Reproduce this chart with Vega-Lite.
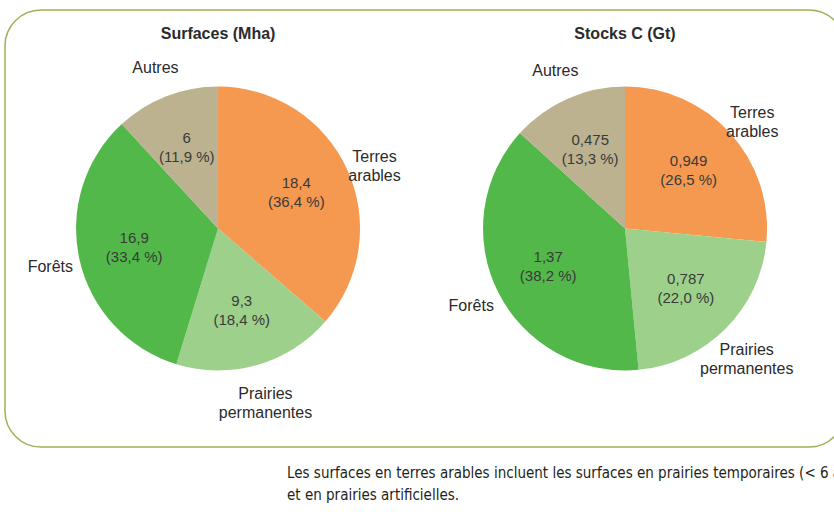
{
  "$schema": "https://vega.github.io/schema/vega-lite/v6.json",
  "autosize": {"type": "none"},
  "width": 840,
  "height": 437,
  "padding": {"left": 5, "top": 10, "right": -11, "bottom": 69},
  "background": "white",
  "config": {
    "view": {"stroke": "#9ab356", "strokeWidth": 1.5, "cornerRadius": 36, "fill": null},
    "font": "Liberation Sans"
  },
  "title": {
    "text": ["Les surfaces en terres arables incluent les surfaces en prairies temporaires (< 6 ans)", "et en prairies artificielles."],
    "orient": "bottom",
    "anchor": "start",
    "frame": "group",
    "dx": 282,
    "offset": 19,
    "font": "DejaVu Sans Condensed",
    "fontSize": 15,
    "fontWeight": "normal",
    "color": "#231f20",
    "lineHeight": 22
  },
  "datasets": {
    "main": [
      {"panel": "Surfaces", "cat": "Terres arables", "value": 18.4, "ord": 1, "inner": "18,4\n(36,4 %)", "outer": "Terres\narables"},
      {"panel": "Surfaces", "cat": "Prairies permanentes", "value": 9.3, "ord": 2, "inner": "9,3\n(18,4 %)", "outer": "Prairies\npermanentes"},
      {"panel": "Surfaces", "cat": "Forêts", "value": 16.9, "ord": 3, "inner": "16,9\n(33,4 %)", "outer": "Forêts"},
      {"panel": "Surfaces", "cat": "Autres", "value": 6, "ord": 4, "inner": "6\n(11,9 %)", "outer": "Autres"},
      {"panel": "Stocks", "cat": "Terres arables", "value": 0.949, "ord": 1, "inner": "0,949\n(26,5 %)", "outer": "Terres\narables"},
      {"panel": "Stocks", "cat": "Prairies permanentes", "value": 0.787, "ord": 2, "inner": "0,787\n(22,0 %)", "outer": "Prairies\npermanentes"},
      {"panel": "Stocks", "cat": "Forêts", "value": 1.37, "ord": 3, "inner": "1,37\n(38,2 %)", "outer": "Forêts"},
      {"panel": "Stocks", "cat": "Autres", "value": 0.475, "ord": 4, "inner": "0,475\n(13,3 %)", "outer": "Autres"}
    ],
    "titles": [
      {"panel": "Surfaces", "title": "Surfaces (Mha)"},
      {"panel": "Stocks", "title": "Stocks C (Gt)"}
    ]
  },
  "layer": [
    {
      "data": {"name": "main"},
      "transform": [
        {"stack": "value", "groupby": ["panel"], "sort": [{"field": "ord", "order": "ascending"}], "offset": "normalize", "as": ["v0", "v1"]}
      ],
      "mark": {"type": "arc", "radius": 142, "stroke": null},
      "encoding": {
        "x": {"field": "panel", "type": "nominal", "scale": {"type": "point", "domain": ["Surfaces", "Stocks"], "padding": 0.532, "align": 0.492}, "axis": null},
        "theta": {"field": "v0", "type": "quantitative", "stack": null, "scale": {"domain": [0, 1]}},
        "theta2": {"field": "v1"},
        "color": {
          "field": "cat", "type": "nominal", "legend": null,
          "scale": {"domain": ["Terres arables", "Prairies permanentes", "Forêts", "Autres"], "range": ["#f4994f", "#9dd08a", "#52b84a", "#bcb28f"]}
        }
      }
    },
    {
      "data": {"name": "main"},
      "transform": [
        {"stack": "value", "groupby": ["panel"], "sort": [{"field": "ord", "order": "ascending"}], "offset": "normalize", "as": ["v0", "v1"]},
        {"fold": ["v0", "v1"], "as": ["edge", "ang"]},
        {"aggregate": [{"op": "mean", "field": "ang", "as": "mid"}], "groupby": ["panel", "cat", "inner", "outer"]}
      ],
      "mark": {"type": "text", "radius": 86, "dy": -10, "fontSize": 15, "lineHeight": 19, "lineBreak": "\n", "align": "center", "baseline": "middle", "color": "#3a3a3a"},
      "encoding": {
        "x": {"field": "panel", "type": "nominal"},
        "theta": {"field": "mid", "type": "quantitative", "stack": null, "scale": {"domain": [0, 1]}},
        "text": {"field": "inner"}
      }
    },
    {
      "data": {"name": "main"},
      "transform": [
        {"stack": "value", "groupby": ["panel"], "sort": [{"field": "ord", "order": "ascending"}], "offset": "normalize", "as": ["v0", "v1"]},
        {"fold": ["v0", "v1"], "as": ["edge", "ang"]},
        {"aggregate": [{"op": "mean", "field": "ang", "as": "mid"}], "groupby": ["panel", "cat", "inner", "outer"]}
      ],
      "mark": {"type": "text", "radius": 172, "fontSize": 16, "lineHeight": 19, "lineBreak": "\n", "align": "center", "baseline": "middle", "color": "#2b2b2b"},
      "encoding": {
        "x": {"field": "panel", "type": "nominal"},
        "theta": {"field": "mid", "type": "quantitative", "stack": null, "scale": {"domain": [0, 1]}},
        "text": {"field": "outer"}
      }
    },
    {
      "data": {"name": "titles"},
      "mark": {"type": "text", "dy": -195, "fontSize": 16, "fontWeight": "bold", "align": "center", "baseline": "middle", "color": "#2b2b2b"},
      "encoding": {
        "x": {"field": "panel", "type": "nominal"},
        "text": {"field": "title"}
      }
    }
  ]
}
